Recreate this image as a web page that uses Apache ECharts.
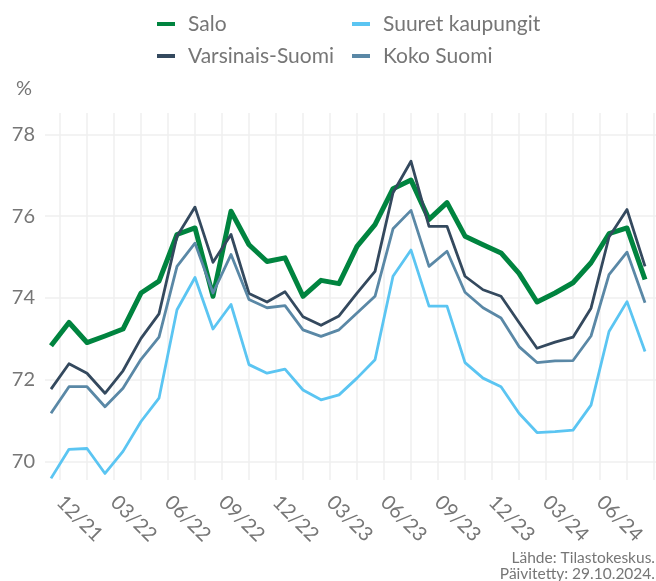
<!DOCTYPE html>
<html>
<head>
<meta charset="utf-8">
<script src="https://cdn.jsdelivr.net/npm/echarts@6/dist/echarts.min.js"></script>
<style>
  html, body { margin: 0; padding: 0; background: #fff; }
  #chart { width: 656px; height: 581px; }
</style>
</head>
<body>
<div id="chart"></div>
<script>
// kuukausittaiset arvot, ensimmäinen piste 11/21
const tickLabels = ["12/21", "03/22", "06/22", "09/22", "12/22", "03/23", "06/23", "09/23", "12/23", "03/24", "06/24"];
const yTicks = [70, 72, 74, 76, 78];

const salo = [72.83, 73.40, 72.91, 73.07, 73.24, 74.12, 74.41, 75.55, 75.71, 74.04, 76.12, 75.30, 74.89, 74.98, 74.04, 74.43, 74.35,
  75.26, 75.79, 76.67, 76.88, 75.92, 76.33, 75.51, 75.30, 75.10, 74.60, 73.90, 74.12, 74.37, 74.86, 75.57, 75.71, 74.45];
const varsinaisSuomi = [71.77, 72.39, 72.16, 71.67, 72.22, 73.01, 73.61, 75.51, 76.22, 74.87, 75.55, 74.11, 73.90, 74.15, 73.54, 73.33, 73.56,
  74.12, 74.65, 76.57, 77.34, 75.75, 75.75, 74.53, 74.20, 74.04, 73.40, 72.77, 72.92, 73.04, 73.75, 75.49, 76.16, 74.77];
const suuretKaupungit = [69.59, 70.30, 70.32, 69.71, 70.25, 70.98, 71.55, 73.71, 74.50, 73.24, 73.84, 72.37, 72.16, 72.26, 71.75, 71.51, 71.63,
  72.04, 72.49, 74.53, 75.17, 73.80, 73.80, 72.42, 72.04, 71.83, 71.18, 70.71, 70.73, 70.77, 71.38, 73.18, 73.91, 72.69];
const kokoSuomi = [71.18, 71.83, 71.83, 71.34, 71.79, 72.50, 73.04, 74.77, 75.34, 74.12, 75.06, 73.96, 73.76, 73.81, 73.22, 73.06, 73.22,
  73.63, 74.04, 75.69, 76.14, 74.77, 75.14, 74.14, 73.76, 73.51, 72.81, 72.42, 72.46, 72.47, 73.07, 74.57, 75.12, 73.88];

const textColor = "#767676";
const font = "Lato, 'Open Sans', sans-serif";

// tick kuun vaihteessa, pisteet kuun keskellä
const labelPos = tickLabels.map((t, i) => 0.5 + 3 * i);
const gridPos = [];
for (let v = 0.5; v <= 33.5; v += 1.5) gridPos.push(v);

function toPoints(arr) {
  return arr.map((v, i) => [i, v]);
}

const chart = echarts.init(document.getElementById("chart"));

const seriesDefs = [
  { name: "Salo", data: salo, color: "#00843f", width: 5 },
  { name: "Varsinais-Suomi", data: varsinaisSuomi, color: "#34495e", width: 2.8 },
  { name: "Suuret kaupungit", data: suuretKaupungit, color: "#5bc5f2", width: 2.8 },
  { name: "Koko Suomi", data: kokoSuomi, color: "#5a88a6", width: 2.8 }
];

const legendBase = {
  orient: "vertical",
  top: 13,
  padding: 0,
  icon: "rect",
  itemWidth: 18,
  itemHeight: 4,
  itemGap: 10,
  textStyle: {
    color: textColor,
    fontSize: 21,
    fontFamily: font,
    lineHeight: 22,
    padding: [0, 0, 0, 8]
  }
};

const option = {
  animation: false,
  backgroundColor: "#fff",
  title: {
    text: "%",
    left: 11,
    top: 74,
    textStyle: { color: textColor, fontSize: 20, fontWeight: "normal", fontFamily: font }
  },
  legend: [
    Object.assign({}, legendBase, { left: 157, data: ["Salo", "Varsinais-Suomi"] }),
    Object.assign({}, legendBase, { left: 352, data: ["Suuret kaupungit", "Koko Suomi"] })
  ],
  grid: {
    left: 45,
    right: 0,
    top: 113,
    bottom: 101
  },
  xAxis: {
    type: "value",
    min: -0.333,
    max: 33.61,
    axisLine: { show: false },
    axisTick: { show: false, customValues: gridPos },
    axisLabel: {
      customValues: labelPos,
      rotate: -45,
      margin: 19,
      color: textColor,
      fontSize: 20,
      fontFamily: font,
      formatter: function (value) {
        const idx = Math.round((value - 0.5) / 3);
        return tickLabels[idx] || "";
      }
    },
    splitLine: { show: true, lineStyle: { color: "#efefef", width: 1.5 } }
  },
  yAxis: {
    type: "value",
    min: 69.55,
    max: 78.52,
    axisLine: { show: false },
    axisTick: { show: false, customValues: yTicks },
    axisLabel: {
      customValues: yTicks,
      margin: 10,
      color: textColor,
      fontSize: 20,
      fontFamily: font
    },
    splitLine: { show: true, lineStyle: { color: "#efefef", width: 1.5 } }
  },
  graphic: [
    {
      type: "text",
      right: 1,
      top: 550,
      style: { text: "Lähde: Tilastokeskus.", fill: textColor, font: "15.5px " + font, textAlign: "right" }
    },
    {
      type: "text",
      right: 1,
      top: 566,
      style: { text: "Päivitetty: 29.10.2024.", fill: textColor, font: "15.5px " + font, textAlign: "right" }
    }
  ],
  series: seriesDefs.map(s => ({
    name: s.name,
    type: "line",
    data: toPoints(s.data),
    showSymbol: false,
    symbol: "none",
    color: s.color,
    lineStyle: { color: s.color, width: s.width, join: "round" },
    emphasis: { disabled: true }
  }))
};

chart.setOption(option);
</script>
</body>
</html>
